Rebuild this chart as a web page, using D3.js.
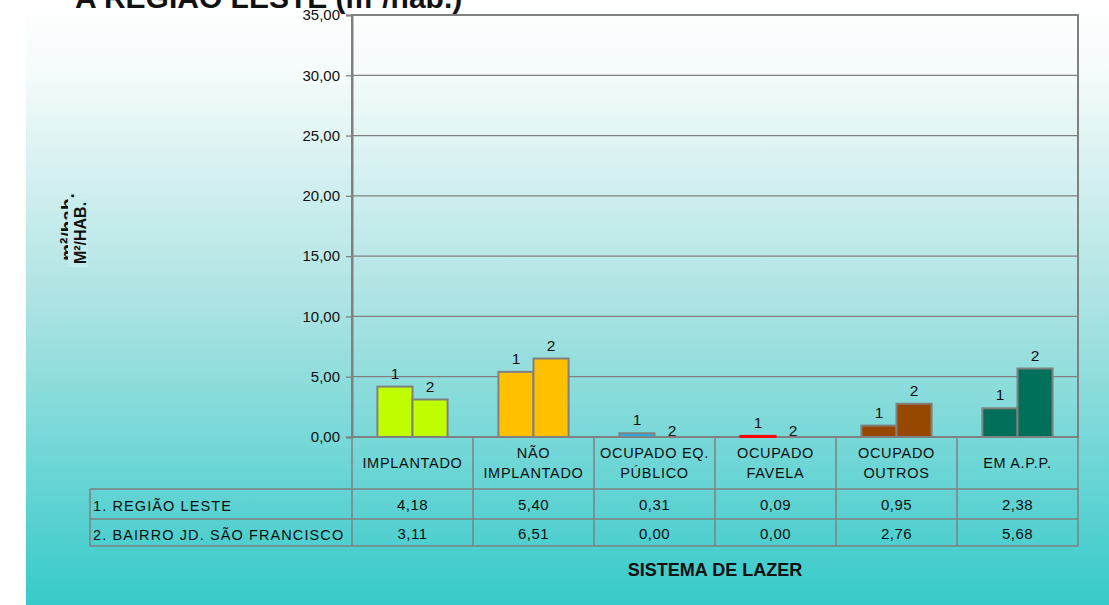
<!DOCTYPE html>
<html>
<head>
<meta charset="utf-8">
<script src="https://cdn.jsdelivr.net/npm/d3@7"></script>
<style>
  body { margin: 0; background: #fff; }
  svg text { font-family: "Liberation Sans", Arial, sans-serif; fill: #111; }
</style>
</head>
<body>
<div class="chart"></div>
<script>
// chart data
const categories = ['IMPLANTADO', 'NÃO IMPLANTADO', 'OCUPADO EQ. PÚBLICO', 'OCUPADO FAVELA', 'OCUPADO OUTROS', 'EM A.P.P.'];
const categoryLines = [['IMPLANTADO'], ['NÃO', 'IMPLANTADO'], ['OCUPADO EQ.', 'PÚBLICO'], ['OCUPADO', 'FAVELA'], ['OCUPADO', 'OUTROS'], ['EM A.P.P.']];
const seriesNames = ['1. REGIÃO LESTE', '2. BAIRRO JD. SÃO FRANCISCO'];
const seriesTags = ['1', '2'];
const regiaoLeste = [4.18, 5.40, 0.31, 0.09, 0.95, 2.38];
const bairroSaoFrancisco = [3.11, 6.51, 0.00, 0.00, 2.76, 5.68];
const yTicks = [0, 5, 10, 15, 20, 25, 30, 35];
const catColors = ['#c0ff00', '#ffc000', '#1fb0e8', '#ff0000', '#964800', '#00705a'];

const series = [regiaoLeste, bairroSaoFrancisco];

const W = 1109, H = 605;
const plot = { left: 352, right: 1078, top: 15, bottom: 437 };
const table = { left: 90, catRow: 489, row1: 519, row2: 546 };

const pt = d3.formatLocale({ decimal: ',', thousands: '.', grouping: [3], currency: ['R$', ''] });
const fmt = pt.format('.2f');

const svg = d3.select('.chart').append('svg')
    .attr('width', W)
    .attr('height', H);

// background gradient panel
const grad = svg.append('defs').append('linearGradient')
    .attr('id', 'bg').attr('x1', 0).attr('y1', 0).attr('x2', 0).attr('y2', 1);
grad.append('stop').attr('offset', 0).attr('stop-color', '#ffffff');
grad.append('stop').attr('offset', 0.12).attr('stop-color', '#f5fbfb');
grad.append('stop').attr('offset', 0.5).attr('stop-color', '#ade3e3');
grad.append('stop').attr('offset', 1).attr('stop-color', '#37caca');

svg.append('rect')
    .attr('x', 26).attr('y', 0)
    .attr('width', W - 26).attr('height', H)
    .attr('fill', 'url(#bg)');

// title (cut at top)
svg.append('text')
    .attr('x', 75).attr('y', 8)
    .attr('font-size', 30).attr('font-weight', 'bold')
    .text('A REGIÃO LESTE (m²/hab.)');

// scales
const y = d3.scaleLinear().domain([0, 35]).range([plot.bottom, plot.top]);
const x0 = d3.scaleBand().domain(categories)
    .range([plot.left, plot.right])
    .paddingInner(0.42).paddingOuter(0.21);
const x1 = d3.scaleBand().domain([0, 1]).range([0, x0.bandwidth()]);
const step = x0.step();
const catLeft = c => x0(c) - x0.paddingOuter() * step;

// gridlines
svg.append('g').selectAll('line')
    .data(yTicks.filter(d => d > 0 && d < 35))
    .join('line')
    .attr('x1', plot.left).attr('x2', plot.right)
    .attr('y1', d => y(d)).attr('y2', d => y(d))
    .attr('stroke', '#808080').attr('stroke-width', 1.3);

// plot border
svg.append('rect')
    .attr('x', plot.left).attr('y', plot.top)
    .attr('width', plot.right - plot.left).attr('height', plot.bottom - plot.top)
    .attr('fill', 'none').attr('stroke', '#808080').attr('stroke-width', 2);

// y axis
const yAxis = svg.append('g')
    .attr('transform', `translate(${plot.left},0)`)
    .call(d3.axisLeft(y).tickValues(yTicks).tickFormat(fmt).tickSize(6).tickPadding(6));
yAxis.select('.domain').attr('stroke', '#808080').attr('stroke-width', 2);
yAxis.selectAll('.tick line').attr('stroke', '#808080').attr('stroke-width', 1.3);
yAxis.selectAll('text')
    .attr('font-size', 15)
    .attr('font-family', '"Liberation Sans", Arial, sans-serif')
    .attr('fill', '#111');

// bars
const groups = svg.append('g').selectAll('g')
    .data(categories)
    .join('g')
    .attr('transform', c => `translate(${x0(c)},0)`);

groups.selectAll('rect')
    .data((c, i) => series.map((s, k) => ({ k, v: s[i], color: catColors[i] })))
    .join('rect')
    .filter(d => d.v > 0)
    .attr('x', d => x1(d.k))
    .attr('y', d => y(d.v))
    .attr('width', x1.bandwidth())
    .attr('height', d => y(0) - y(d.v))
    .attr('fill', d => d.color)
    .attr('stroke', d => (y(0) - y(d.v) < 2 ? d.color : '#808080'))
    .attr('stroke-width', 2);

groups.selectAll('text')
    .data((c, i) => series.map((s, k) => ({ k, v: s[i] })))
    .join('text')
    .attr('x', d => x1(d.k) + x1.bandwidth() / 2)
    .attr('y', d => y(d.v) - (d.v > 0 ? 8 : 1))
    .attr('text-anchor', 'middle')
    .attr('font-size', 15.5)
    .text(d => seriesTags[d.k]);

// data table
const grid = svg.append('g').attr('stroke', '#808080').attr('stroke-width', 1.5);
const colEdges = categories.map(catLeft).concat([plot.right]);
grid.selectAll('.v')
    .data(colEdges)
    .join('line')
    .attr('x1', d => d).attr('x2', d => d)
    .attr('y1', plot.bottom).attr('y2', table.row2);
grid.append('line')
    .attr('x1', table.left).attr('x2', table.left)
    .attr('y1', table.catRow).attr('y2', table.row2);
[table.catRow, table.row1, table.row2].forEach(yy => {
    grid.append('line')
        .attr('x1', table.left).attr('x2', plot.right)
        .attr('y1', yy).attr('y2', yy);
});

// category labels
const catMid = (plot.bottom + table.catRow) / 2;
svg.append('g').selectAll('text')
    .data(categoryLines)
    .join('text')
    .attr('text-anchor', 'middle')
    .attr('font-size', 14.5)
    .attr('letter-spacing', 0.7)
    .each(function (lines, i) {
        const t = d3.select(this);
        const cx = x0(categories[i]) + x0.bandwidth() / 2;
        lines.forEach((ln, j) => {
            t.append('tspan')
                .attr('x', cx)
                .attr('y', catMid + 5 + (j - (lines.length - 1) / 2) * 20)
                .text(ln);
        });
    });

// row labels and values
const rowTops = [table.catRow, table.row1];
const rowBots = [table.row1, table.row2];
series.forEach((s, k) => {
    const ym = (rowTops[k] + rowBots[k]) / 2 + 6;
    svg.append('text')
        .attr('x', table.left + 3).attr('y', ym + 1)
        .attr('font-size', 14.5)
        .attr('letter-spacing', 1.1)
        .text(seriesNames[k]);
    svg.append('g').selectAll('text')
        .data(s)
        .join('text')
        .attr('x', (d, i) => x0(categories[i]) + x0.bandwidth() / 2)
        .attr('y', ym)
        .attr('text-anchor', 'middle')
        .attr('font-size', 15)
        .attr('letter-spacing', 0.5)
        .text(d => fmt(d));
});

// axis titles
svg.append('text')
    .attr('x', 715).attr('y', 576)
    .attr('text-anchor', 'middle')
    .attr('font-size', 19).attr('font-weight', 'bold')
    .attr('transform', 'translate(715,0) scale(0.95,1) translate(-715,0)')
    .text('SISTEMA DE LAZER');

const yLab = svg.append('g').attr('transform', 'translate(0,233) rotate(-90)');
yLab.append('text')
    .attr('x', 6).attr('y', 74)
    .attr('text-anchor', 'middle')
    .attr('font-size', 19).attr('font-weight', 'bold')
    .text('m²/hab.');
yLab.append('rect')
    .attr('x', -34).attr('y', 68)
    .attr('width', 68).attr('height', 20)
    .attr('fill', '#c6eded');
yLab.append('text')
    .attr('x', 0).attr('y', 86)
    .attr('text-anchor', 'middle')
    .attr('font-size', 16).attr('font-weight', 'bold')
    .text('M²/HAB.');
</script>
</body>
</html>
